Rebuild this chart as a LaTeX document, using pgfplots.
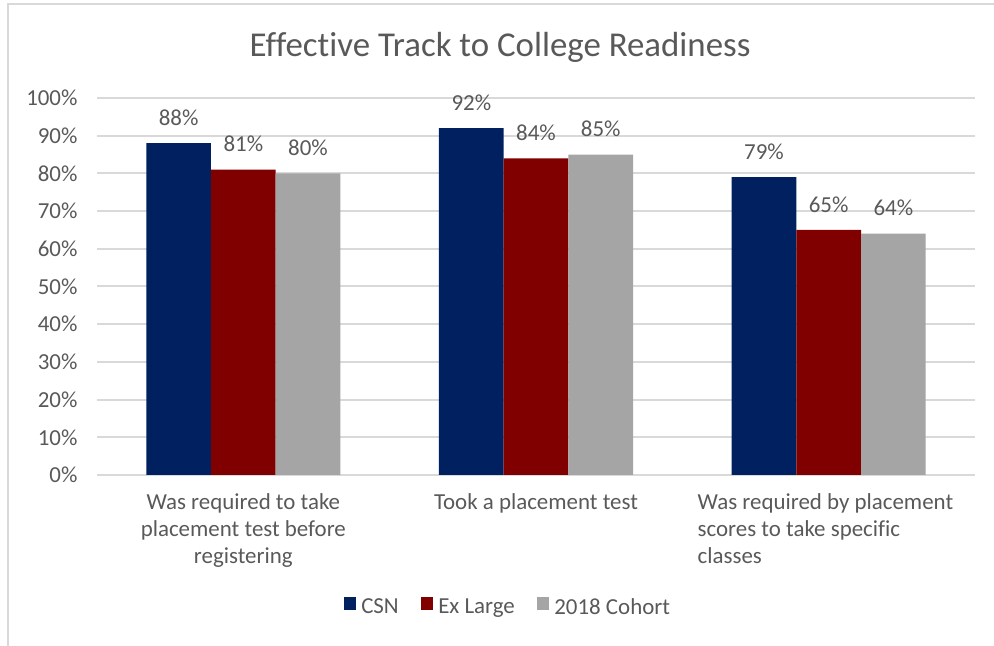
\documentclass[border=0pt]{standalone}
\usepackage{pgfplots}
\pgfplotsset{compat=1.18}
\usepackage{fontspec}
\setmainfont{Carlito}[Ligatures={NoCommon}]
\definecolor{cCSN}{HTML}{002060}
\definecolor{cEx}{HTML}{800000}
\definecolor{cCoh}{HTML}{A5A5A5}
\definecolor{ctext}{HTML}{595959}
\definecolor{cgrid}{HTML}{D9D9D9}
\begin{document}
\begin{tikzpicture}[x=1bp,y=1bp]
\path[use as bounding box] (0,0) rectangle (994,646);
\draw[color=cgrid, line width=2bp] (8,0) -- (8,642) -- (994,642);
\node[text=ctext, font=\fontsize{35}{40}\selectfont, anchor=center] at (500,599) {Effective Track to College Readiness};
\begin{axis}[
  at={(97bp,171bp)}, anchor=south west,
  scale only axis, width=878bp, height=377bp,
  xmin=-0.5, xmax=2.5, ymin=0, ymax=100,
  xtick={0,1,2},
  xticklabels={{Was required to take\\placement test before\\registering},{Took a placement test},{\parbox[t]{262bp}{\raggedright Was required by placement\\scores to take specific\\classes}}},
  ytick={0,10,...,100},
  yticklabel={\pgfmathprintnumber{\tick}\%},
  /pgf/number format/assume math mode=true,
  ticklabel style={text=ctext, font=\fontsize{23}{27}\selectfont},
  yticklabel style={xshift=-16bp},
  xticklabel style={align=center, yshift=-15bp},
  major tick length=0pt,
  tick style={draw=none},
  axis line style={draw=none},
  ymajorgrids,
  major grid style={color=cgrid, line width=2bp},
  ybar=0pt, bar width=0.221,
  nodes near coords={\pgfmathprintnumber{\pgfplotspointmeta}\%},
  every node near coord/.append style={text=ctext, font=\fontsize{23}{27}\selectfont, anchor=south, yshift=14bp},
  legend columns=3,
  legend style={at={(0.468,-0.35)}, anchor=center, draw=none, fill=none,
    font=\fontsize{23}{27}\selectfont, text=ctext,
    /tikz/every even column/.append style={column sep=20bp},
    /tikz/every odd column/.append style={column sep=3bp}},
  legend image code/.code={\fill[#1] (0bp,-3bp) rectangle (12.5bp,9.5bp);},
]
\addplot[fill=cCSN, draw=none, bar shift=-0.221] coordinates {(0,88) (1,92) (2,79)};
\addplot[fill=cEx, draw=none, bar shift=0] coordinates {(0,81) (1,84) (2,65)};
\addplot[fill=cCoh, draw=none, bar shift=0.221] coordinates {(0,80) (1,85) (2,64)};
\legend{CSN, Ex Large, 2018 Cohort}
\end{axis}
\end{tikzpicture}
\end{document}
